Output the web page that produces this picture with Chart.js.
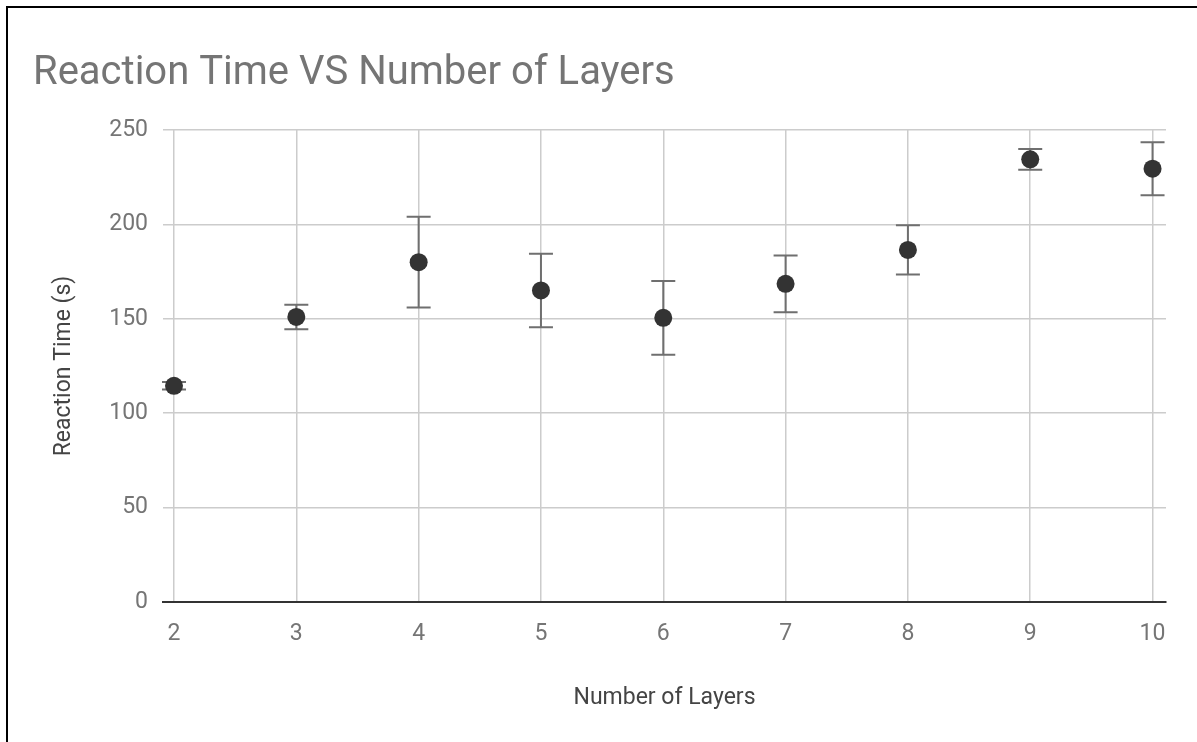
<!DOCTYPE html>
<html>
<head>
<meta charset="utf-8">
<title>Reaction Time VS Number of Layers</title>
<script src="https://cdn.jsdelivr.net/npm/chart.js@4.4.1/dist/chart.umd.min.js"></script>
<style>
  html, body { margin: 0; padding: 0; background: #fff; }
  #wrap { position: relative; width: 1197px; height: 742px; overflow: hidden; }
  #frame {
    position: absolute; left: 6px; top: 6px; right: -10px; bottom: -10px;
    border-top: 2px solid #000; border-left: 2px solid #000;
    pointer-events: none;
  }
  canvas { position: absolute; left: 0; top: 0; }
</style>
</head>
<body>
<div id="wrap">
  <canvas id="chart" width="1197" height="742"></canvas>
  <div id="frame"></div>
</div>
<script>
// data
const layers = [2, 3, 4, 5, 6, 7, 8, 9, 10];
const meanTimes = [114.5, 151, 180, 165, 150.5, 168.5, 186.5, 234.5, 229.5];
const errors = [2, 6.5, 24, 19.5, 19.5, 15, 13, 5.5, 14];
const yTicks = [0, 50, 100, 150, 200, 250];

const points = layers.map((x, i) => ({ x: x, y: meanTimes[i] }));

// whiskers drawn under the dots, using the chart's scales
const errorBars = {
    id: "errorBars",
    beforeDatasetsDraw(chart) {
        const { ctx, scales: { x, y } } = chart;
        ctx.save();
        ctx.strokeStyle = "#6f6f6f";
        ctx.lineWidth = 2;
        layers.forEach((v, i) => {
            const px = x.getPixelForValue(v);
            const top = y.getPixelForValue(meanTimes[i] + errors[i]);
            const bot = y.getPixelForValue(meanTimes[i] - errors[i]);
            ctx.beginPath();
            ctx.moveTo(px, top); ctx.lineTo(px, bot);
            ctx.moveTo(px - 12, top); ctx.lineTo(px + 12, top);
            ctx.moveTo(px - 12, bot); ctx.lineTo(px + 12, bot);
            ctx.stroke();
        });
        ctx.restore();
    }
};

new Chart(document.getElementById("chart"), {
    type: "scatter",
    data: {
        datasets: [{
            label: "Reaction Time",
            data: points,
            backgroundColor: "#333333",
            borderWidth: 0,
            pointRadius: 9,
            pointHoverRadius: 9
        }]
    },
    options: {
        responsive: false,
        animation: false,
        layout: { padding: { left: 33, right: 31, top: 0, bottom: 0 } },
        plugins: {
            legend: { display: false },
            tooltip: { enabled: false },
            title: {
                display: true,
                text: "Reaction Time VS Number of Layers",
                align: "start",
                color: "#757575",
                font: { family: "Roboto", size: 40, weight: "normal" },
                padding: { top: 50, bottom: 32 }
            }
        },
        scales: {
            x: {
                type: "linear",
                min: 1.91,
                max: 10.11,
                afterBuildTicks: (s) => { s.ticks = layers.map(v => ({ value: v })); },
                afterFit: (s) => { s.height = 140; },
                grid: { color: "#cccccc", lineWidth: 1.5, drawTicks: false },
                border: { display: true, color: "#333333", width: 2 },
                ticks: {
                    color: "#757575",
                    padding: 18,
                    font: { family: "Roboto", size: 23 }
                },
                title: {
                    display: true,
                    text: "Number of Layers",
                    color: "#444444",
                    font: { family: "Roboto", size: 23 },
                    padding: { top: 0, bottom: 30 }
                }
            },
            y: {
                min: 0,
                max: 250,
                afterBuildTicks: (s) => { s.ticks = yTicks.map(v => ({ value: v })); },
                afterFit: (s) => { s.width = 130; },
                grid: { color: "#cccccc", lineWidth: 1.5, drawTicks: false },
                border: { display: false },
                ticks: {
                    color: "#757575",
                    padding: 15,
                    font: { family: "Roboto", size: 23 }
                },
                title: {
                    display: true,
                    text: "Reaction Time (s)",
                    color: "#444444",
                    font: { family: "Roboto", size: 23 },
                    padding: { top: 17, bottom: 0 }
                }
            }
        }
    },
    plugins: [errorBars]
});
</script>
</body>
</html>
